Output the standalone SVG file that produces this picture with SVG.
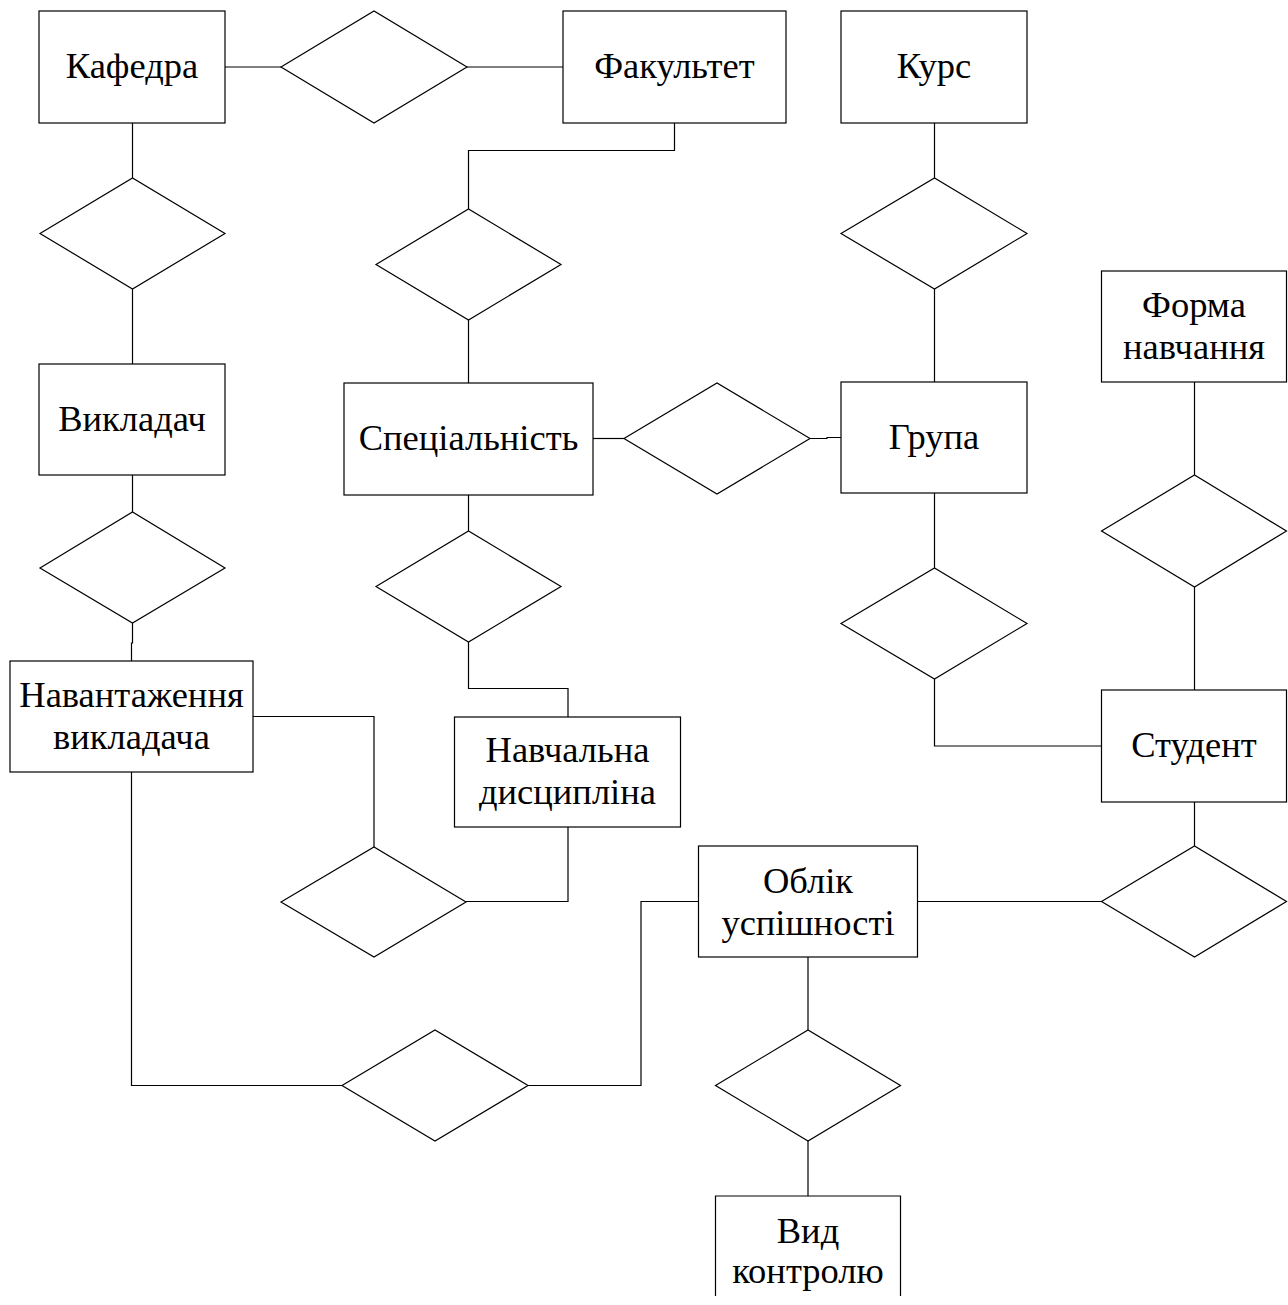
<svg xmlns="http://www.w3.org/2000/svg" width="1288" height="1305" viewBox="0 0 1288 1305">
<style>
.n rect,.n path,.n polygon{fill:#fff;stroke:#000;stroke-width:1.2}
.c path{fill:none;stroke:#000;stroke-width:1.2}
text{font-family:"Liberation Serif","Times New Roman",serif;font-size:36.5px;fill:#000;text-anchor:middle}
</style>
<rect width="1288" height="1305" fill="#fff"/>
<g class="c" id="connectors">
<path d="M225,67 H281"/>
<path d="M467,67 H563"/>
<path d="M132.5,123 V178"/>
<path d="M132.5,289 V364"/>
<path d="M674.5,123 V150.5 H468.5 V209"/>
<path d="M468.5,320 V383"/>
<path d="M934.5,123 V178"/>
<path d="M934.5,289 V382"/>
<path d="M593,438.5 H624"/>
<path d="M810,438.5 H827 V437.5 H841"/>
<path d="M1194.5,382 V475"/>
<path d="M132.5,475 V512"/>
<path d="M132.5,623 V643 H131.5 V661"/>
<path d="M468.5,495 V531"/>
<path d="M468.5,642 V688.5 H568 V717"/>
<path d="M934.5,493 V568"/>
<path d="M934.5,679 V746 H1101.5"/>
<path d="M1194.5,587 V690"/>
<path d="M253,716.5 H374 V847"/>
<path d="M131.5,772 V1085.5 H342"/>
<path d="M568,827 V901.5 H466"/>
<path d="M1194.5,802 V846"/>
<path d="M917.5,901.5 H1101.5"/>
<path d="M528,1085.5 H641 V901.5 H698.5"/>
<path d="M808,957 V1030"/>
<path d="M808,1141 V1196"/>
</g>
<g class="n" id="kafedra"><rect x="39" y="11" width="186" height="112"/><text x="132" y="78">Кафедра</text></g>
<g class="n" id="fakultet"><rect x="563" y="11" width="223" height="112"/><text x="674.5" y="78">Факультет</text></g>
<g class="n" id="kurs"><rect x="841" y="11" width="186" height="112"/><text x="934" y="78">Курс</text></g>
<g class="n" id="forma"><rect x="1101.5" y="271" width="185" height="111"/><text x="1194" y="317">Форма</text><text x="1194" y="359">навчання</text></g>
<g class="n" id="vykladach"><rect x="39" y="364" width="186" height="111"/><text x="132" y="431">Викладач</text></g>
<g class="n" id="specialnist"><rect x="344" y="383" width="249" height="112"/><text x="468.5" y="450">Спеціальність</text></g>
<g class="n" id="grupa"><rect x="841" y="382" width="186" height="111"/><text x="934" y="449">Група</text></g>
<g class="n" id="navantazhennia"><rect x="10" y="661" width="243" height="111"/><text x="131.5" y="707">Навантаження</text><text x="131.5" y="749">викладача</text></g>
<g class="n" id="dyscyplina"><rect x="454.5" y="717" width="226" height="110"/><text x="567.5" y="762">Навчальна</text><text x="567.5" y="804">дисципліна</text></g>
<g class="n" id="student"><rect x="1101.5" y="690" width="185" height="112"/><text x="1194" y="757">Студент</text></g>
<g class="n" id="oblik"><rect x="698.5" y="846" width="219" height="111"/><text x="808" y="893">Облік</text><text x="808" y="935">успішності</text></g>
<g class="n" id="vyd"><path d="M715.5,1296 V1196 H900.5 V1296"/><text x="808" y="1243">Вид</text><text x="808" y="1283">контролю</text></g>
<g class="n" id="r1"><polygon points="281,67 374,11 467,67 374,123"/></g>
<g class="n" id="r2"><polygon points="40,233.5 132.5,178 225,233.5 132.5,289"/></g>
<g class="n" id="r3"><polygon points="376,264.5 468.5,209 561,264.5 468.5,320"/></g>
<g class="n" id="r4"><polygon points="841,233.5 934.5,178 1027,233.5 934.5,289"/></g>
<g class="n" id="r5"><polygon points="40,568 132.5,512 225,568 132.5,623"/></g>
<g class="n" id="r6"><polygon points="376,586.5 468.5,531 561,586.5 468.5,642"/></g>
<g class="n" id="r7"><polygon points="624,438.5 717,383 810,438.5 717,494"/></g>
<g class="n" id="r8"><polygon points="841,623.5 934.5,568 1027,623.5 934.5,679"/></g>
<g class="n" id="r9"><polygon points="1101.5,531 1194.5,475 1286.5,531 1194.5,587"/></g>
<g class="n" id="r10"><polygon points="1101.5,901.5 1194.5,846 1286.5,901.5 1194.5,957"/></g>
<g class="n" id="r11"><polygon points="281,902 374,847 466,902 374,957"/></g>
<g class="n" id="r12"><polygon points="342,1085.5 435,1030 528,1085.5 435,1141"/></g>
<g class="n" id="r13"><polygon points="715.5,1085.5 808,1030 900.5,1085.5 808,1141"/></g>
</svg>
